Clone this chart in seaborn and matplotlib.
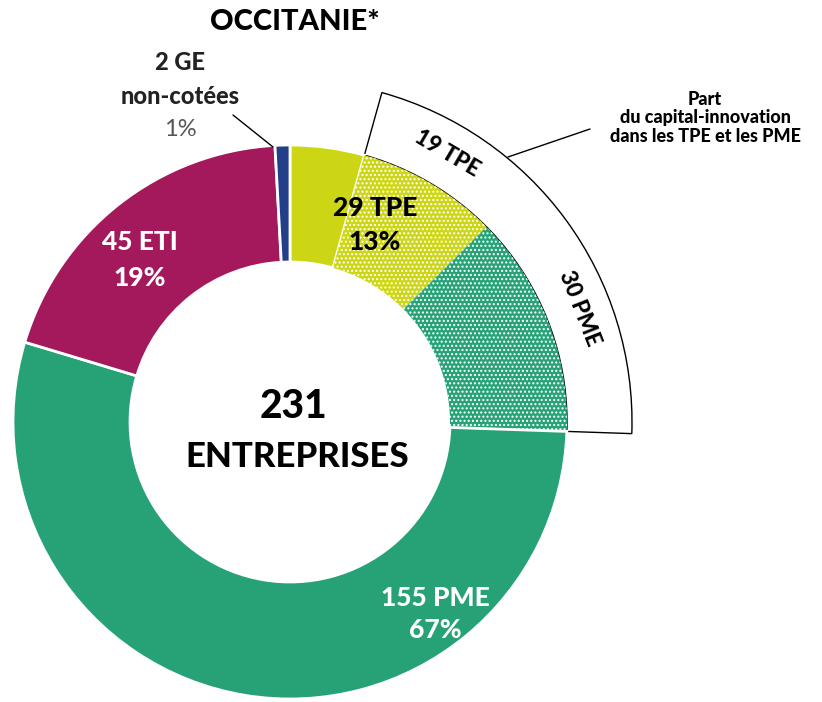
import numpy as np
import matplotlib.pyplot as plt
import seaborn as sns
from matplotlib.patches import Wedge

# DATA
segments = ["TPE", "TPE_ci", "PME_ci", "PME", "ETI", "GE"]
counts = [10, 19, 30, 125, 45, 2]
colors = ["#CDD614", "#CDD614", "#26A276", "#26A276", "#A3195B", "#233F8A"]
hatches = [None, "....", "....", None, None, None]

TOTAL = sum(counts)
CENTER = (290, 280)
R_OUT = 277
R_IN = 160
BOLD = "black"

sns.set_theme(style="white")
plt.rcParams["font.family"] = ["Lato", "DejaVu Sans"]

fig = plt.figure(figsize=(8.22, 7.02), dpi=100)
ax = fig.add_axes([0, 0, 1, 1])

# bracket around capital-innovation part
start_frac = counts[0] / TOTAL
end_frac = sum(counts[:3]) / TOTAL
bracket = Wedge(CENTER, 342, 90 - end_frac * 360, 90 - start_frac * 360,
                width=342 - R_OUT, facecolor="white", edgecolor="black", lw=1.0)
ax.add_patch(bracket)

wedges, _ = ax.pie(counts, colors=colors, startangle=90, counterclock=False,
                   radius=R_OUT, center=CENTER, frame=True,
                   wedgeprops=dict(width=R_OUT - R_IN, edgecolor="white", linewidth=2))
for w, h in zip(wedges, hatches):
    if h:
        w.set_hatch(h)
        w.set_linewidth(0)
ax.set_xlim(0, 822)
ax.set_ylim(0, 702)
ax.set_aspect("equal")
ax.axis("off")


def polar(frac, r):
    ang = np.deg2rad(90 - frac * 360)
    return CENTER[0] + r * np.cos(ang), CENTER[1] + r * np.sin(ang)


# arc labels
for lab, a, b in [("19 TPE", counts[0], counts[0] + counts[1]),
                  ("30 PME", counts[0] + counts[1], sum(counts[:3]))]:
    mid = (a + b) / 2 / TOTAL
    x, y = polar(mid, 311)
    ax.text(x, y, lab, rotation=-mid * 360, ha="center", va="center",
            fontsize=16, fontweight=BOLD, color="black", rotation_mode="anchor")

# segment labels
ax.text(375, 702 - 225, "29 TPE\n13%", ha="center", va="center", fontsize=19,
        fontweight=BOLD, color="black", linespacing=1.5)
ax.text(140, 702 - 260, "45 ETI\n19%", ha="center", va="center", fontsize=19,
        fontweight=BOLD, color="white", linespacing=1.55)
ax.text(435, 702 - 614, "155 PME\n67%", ha="center", va="center", fontsize=19,
        fontweight=BOLD, color="white", linespacing=1.45)

ax.text(293, 702 - 407, "231", ha="center", va="center", fontsize=28,
        fontweight=BOLD, color="black")
ax.text(297, 702 - 457, "ENTREPRISES", ha="center", va="center", fontsize=25,
        fontweight=BOLD, color="black")

ax.text(295, 702 - 22, "OCCITANIE*", ha="center", va="center", fontsize=21,
        fontweight=BOLD, color="black")

ax.text(180, 702 - 63, "2 GE", ha="center", va="center", fontsize=17,
        fontweight=BOLD, color="#222222")
ax.text(180, 702 - 96, "non-cotées", ha="center", va="center", fontsize=17,
        fontweight=BOLD, color="#222222")
ax.text(180, 702 - 129, "1%", ha="center", va="center", fontsize=17,
        color="#555555")
ax.plot([233, 273], [702 - 115, 702 - 147], color="black", lw=1)

ax.text(705, 702 - 118, "Part\ndu capital-innovation\ndans les TPE et les PME",
        ha="center", va="center", fontsize=13, fontweight=BOLD, color="black",
        linespacing=1.1)
ax.plot([508, 590], [702 - 157, 702 - 129], color="black", lw=1)

fig.savefig("out.png", dpi=100)
